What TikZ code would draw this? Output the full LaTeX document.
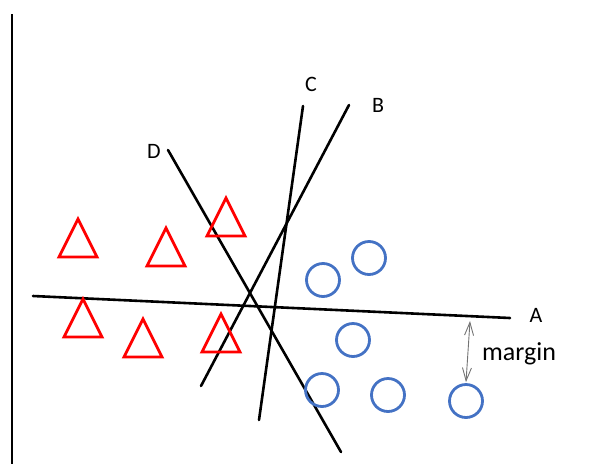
\documentclass[tikz,border=0pt]{standalone}
\usepackage{fontspec}
\setmainfont{Carlito}
\usepackage{xcolor}
\usetikzlibrary{arrows.meta, positioning, calc}
\definecolor{officeblue}{RGB}{68,114,196}

\begin{document}
\begin{tikzpicture}[
    x=1pt, y=-1pt,
    sepline/.style={line width=2.6pt, draw=black, line cap=round},
    tri/.style={line width=2.8pt, draw=red, line join=miter},
    dot/.style={circle, draw=officeblue, line width=2.8pt, minimum size=33pt, inner sep=0pt},
    lbl/.style={font=\fontsize{22}{26}\selectfont, inner sep=0pt},
    gap/.style={{Straight Barb[length=13pt, width=9pt]}-{Straight Barb[length=13pt, width=9pt]}, line width=0.9pt, draw=black!55}
]
\useasboundingbox (0,0) rectangle (597,464);

% Vertical axis
\draw[line width=2.6pt] (12,14) -- (12,464);

% Separating lines
\coordinate (a1) at (33,296);  \coordinate (a2) at (510,318);
\coordinate (b1) at (349,105); \coordinate (b2) at (201,386);
\coordinate (c1) at (303,106); \coordinate (c2) at (259,420);
\coordinate (d1) at (168,150); \coordinate (d2) at (341,452);
\draw[sepline] (a1) -- (a2);
\draw[sepline] (b1) -- (b2);
\draw[sepline] (c1) -- (c2);
\draw[sepline] (d1) -- (d2);

\node[lbl] (labA) at (536,315) {A};
\node[lbl] (labB) at (378,105) {B};
\node[lbl] (labC) at (311,84) {C};
\node[lbl] (labD) at (154,151) {D};

% Class one: triangles (base centre)
\foreach \x/\y in {78/257, 166/266, 226/236, 83/337, 143/357, 221/352}
    \draw[tri] (\x-19,\y) -- (\x,\y-38) -- (\x+19,\y) -- cycle;

% Class two: circles
\node[dot] (p1) at (323,280) {};
\node[dot] (p2) at (369,258) {};
\node[dot] (p3) at (353,340) {};
\node[dot] (p4) at (322,390) {};
\node[dot] (p5) at (388,395) {};
\node[dot] (p6) at (466,401) {};

% Margin
\coordinate (m1) at (470,321);
\draw[gap] (m1) -- ([yshift=1pt]p6.north);
\node[lbl, anchor=west, font=\fontsize{26}{30}\selectfont] (margin) at (482,354) {margin};

\end{tikzpicture}
\end{document}
